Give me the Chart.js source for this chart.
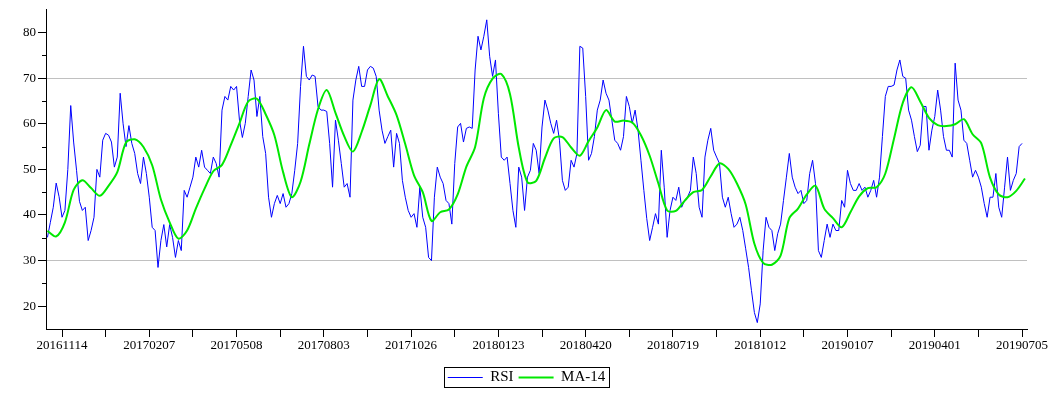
<!DOCTYPE html>
<html>
<head>
<meta charset="utf-8">
<title>RSI</title>
<script src="https://cdn.jsdelivr.net/npm/chart.js@4.4.1/dist/chart.umd.min.js"></script>
<style>
  html, body { margin: 0; padding: 0; background: #fff; }
</style>
</head>
<body>
<canvas id="rsiChart" width="1058" height="400"></canvas>
<script>
// RSI, one reading every second trading day
const rsiValues = [
  35.1, 38.4, 41.7, 47, 44, 39.5, 41, 50, 64, 56,
  49.8, 43, 41, 41.7, 34.4, 36.6, 39.5, 50, 48.3, 56.4,
  57.9, 57.5, 56, 50.5, 52.7, 66.7, 60, 55, 59.6, 55.7,
  53.5, 49.1, 46.9, 52.7, 49.1, 43.9, 37.3, 36.6, 28.5, 34.4,
  37.9, 33, 37.9, 35.1, 30.7, 34.4, 32.2, 45.4, 43.9, 46.1,
  48.3, 52.7, 50.5, 54.2, 50.5, 49.8, 49.1, 52.7, 51.3, 48.3,
  63, 66, 65.2, 68.2, 67.4, 68.2,
  60.8, 57, 60.1, 66, 71.8, 69.6, 61.6, 66, 57.2, 53.5,
  43.9, 39.5, 42.5, 44.3, 42.5, 44.7, 41.7, 42.5, 44.7, 49.8,
  55.7, 68.2, 77, 70.4, 69.6, 70.7, 70.4, 63.8, 63, 63,
  62.7, 55.7, 46.1, 60.8, 56.4, 51.3, 46.1, 46.9, 43.9, 65.2,
  69.6, 72.6, 68.2, 68.2, 71.8, 72.6, 72.2, 70.4, 63, 58.6,
  55.7, 57.2, 58.6, 50.5, 57.9, 55.7, 47.6, 43.9, 41, 39.5,
  40.3, 37.3, 46.1, 39.5, 37.3, 30.7, 30, 43.9,
  50.5, 48.3, 46.9, 43.2, 42.5, 38, 51.3, 59.3, 60.1, 56,
  59, 59.3, 59, 71.8, 79.2, 76.2, 79.2, 82.8, 74.8, 70.4,
  74, 62.3, 52.7, 52, 52.7, 46.9, 41, 37.3, 50.5, 48.3,
  41, 48.3, 49.8, 55.7, 54.2, 49.1, 59.3, 65.2, 63, 60.1,
  57.9, 60.8, 56.4, 47.6, 45.4, 46.1, 52, 50.5, 53.5, 77,
  76.6, 66, 52, 53.5, 57.2, 63, 65.2, 69.6, 66.7, 65.2,
  60.8, 56.4, 55.7, 54.2, 57.2, 66, 63.8,
  60.1, 63, 58.6, 52, 45.4, 39.2, 34.4, 37.3, 40.3, 38,
  54.2, 46.1, 35.1, 41, 43.9, 43.2, 46.1, 41.7, 43.2, 43.9,
  45.4, 52.7, 49.1, 41.7, 39.5, 52.7, 56.4, 59, 54.2, 52.7,
  51.3, 43.9, 41.7, 43.9, 40.3, 37.3, 38, 39.5, 36.6, 32.6,
  28.5, 23.4, 18.6, 16.4, 20.5, 32.2, 39.5, 37.3, 36.6, 32.2,
  35.9, 38, 43.2, 48.3, 53.5, 48.3, 46.1, 44.7, 45.4, 42.5,
  43.2, 49.1, 52, 46.9, 32.2, 30.7, 34.4, 38,
  35.1, 38, 36.6, 36.6, 43.2, 41.7, 49.8, 46.9, 45.4, 45.4,
  46.9, 45.4, 46.1, 43.9, 45.4, 47.6, 43.9, 48.3, 57.2, 66,
  68.2, 68.2, 68.5, 71.8, 74, 70.4, 70, 63, 60.8, 57.2,
  53.9, 55.3, 63.8, 63.8, 54.2, 58.6, 61.6, 67.4, 63, 57.2,
  54.2, 54.2, 52.7, 73.3, 65.2, 63, 56.4, 55.7, 52, 48.3,
  49.8, 48.3, 46.1, 42.5, 39.5, 43.9, 43.9, 49.1, 41.7, 39.5,
  46.1, 52.7, 45.4, 47.6, 49.1, 55, 55.7
];

const maValues = [
  36.5, 35.3, 38.4, 45.5, 47.6, 45.9, 44.2, 46.4, 49.4, 55.9,
  56.6, 54.9, 50.9, 43.4, 38.4, 34.8, 36.6, 41.4, 45.8, 49.6,
  51, 55.3, 60.1, 64.9, 65.5, 62.1, 57.5, 49.4, 43.9, 47.3,
  55.5, 63.2, 67.4, 62.4, 57.3, 53.9, 58.2, 64.1, 69.8, 66,
  61.9, 55.5, 48.7, 45, 38.7, 40.6, 41.2, 44.5, 50.6, 54.9,
  65.6, 69.9, 70.9, 66.5, 54.8, 47.2, 47.5, 52.5, 56.8, 57.1,
  54.8, 53, 56.2, 59.2, 63, 60.5, 60.7, 60.3, 57.5, 53,
  46.9, 41, 40.9, 43.1, 45, 45.5, 48.5, 51.3, 50.1, 46.9,
  42.3, 33.7, 29.5, 29.1, 31.1, 39.3, 41.4, 44.5, 46.4, 41.4,
  39.3, 37.3, 40.6, 44.1, 45.9, 46.1, 49.1, 56.8, 64.6, 68,
  64.9, 61.3, 59.7, 59.5, 59.9, 61, 57.7, 55.7, 48.2, 44.5,
  43.9, 45.3, 48
];
const maStep = 3;

// date labels, one every 30 readings, first one at reading 5
const dateLabels = ['20161114', '20170207', '20170508', '20170803', '20171026', '20180123',
  '20180420', '20180719', '20181012', '20190107', '20190401', '20190705'];
const labelStart = 5;
const labelEvery = 30;

const yLabels = [20, 30, 40, 50, 60, 70, 80];
const yMinor = [25, 35, 45, 55, 65, 75];
const refLines = [30, 70];

const serif = "'Liberation Serif', 'Times New Roman', serif";
const legendShift = 13;

// short minor ticks on the y axis and the frame round the legend
const extras = {
  id: 'extras',
  afterLayout(chart) {
    // legend sits a little right of the centre in the original
    chart.legend.left += legendShift;
    chart.legend.right += legendShift;
  },
  afterDraw(chart) {
    const ctx = chart.ctx;
    const y = chart.scales.y;
    ctx.save();
    ctx.strokeStyle = '#000';
    ctx.lineWidth = 1;
    ctx.beginPath();
    yMinor.forEach(function(v) {
      const py = Math.round(y.getPixelForValue(v)) + 0.5;
      ctx.moveTo(y.right - 4, py);
      ctx.lineTo(y.right, py);
    });
    ctx.stroke();

    const boxes = chart.legend.legendHitBoxes;
    if (boxes && boxes.length) {
      const first = boxes[0];
      const last = boxes[boxes.length - 1];
      const l = Math.round(first.left) - 3.5;
      const r = Math.round(last.left + last.width) + 4.5;
      const t = Math.round(first.top) - 2.5;
      const b = Math.round(first.top + first.height) + 2.5;
      ctx.strokeRect(l, t, r - l, b - t);
    }
    ctx.restore();
  }
};

const ctx1 = document.getElementById('rsiChart');
new Chart(ctx1, {
  type: 'line',
  data: {
    datasets: [{
      label: 'RSI',
      data: rsiValues.map((v, i) => ({ x: i, y: v })),
      borderColor: '#0000ff',
      borderWidth: 1,
      pointRadius: 0,
      tension: 0,
      order: 2
    }, {
      label: 'MA-14',
      data: maValues.map((v, k) => ({ x: k * maStep, y: v })),
      borderColor: '#00e800',
      borderWidth: 2,
      pointRadius: 0,
      tension: 0.3,
      order: 1
    }]
  },
  options: {
    responsive: false,
    animation: false,
    devicePixelRatio: 1,
    layout: { padding: { top: 9, right: 31, bottom: 5, left: 0 } },
    plugins: {
      tooltip: { enabled: false },
      legend: {
        position: 'bottom',
        labels: {
          usePointStyle: true,
          pointStyle: 'line',
          pointStyleWidth: 35,
          boxWidth: 35,
          padding: 5,
          color: '#000',
          font: { family: serif, size: 15 },
          sort: (a, b) => a.datasetIndex - b.datasetIndex
        }
      }
    },
    scales: {
      x: {
        type: 'linear',
        min: -0.5,
        max: 336.7,
        afterBuildTicks: function(scale) {
          const ticks = [];
          for (let k = 0; k <= (dateLabels.length - 1) * 2; k++) {
            ticks.push({ value: labelStart + k * labelEvery / 2 });
          }
          scale.ticks = ticks;
        },
        afterFit: function(scale) { scale.height = 36; },
        ticks: {
          autoSkip: false,
          maxRotation: 0,
          padding: 1,
          color: '#000',
          font: { family: serif, size: 13 },
          callback: function(value) {
            const k = (value - labelStart) / labelEvery;
            return Number.isInteger(k) ? dateLabels[k] : '';
          }
        },
        grid: { drawOnChartArea: false, color: '#000', tickColor: '#000', tickLength: 8 },
        border: { display: true, color: '#000', width: 1 }
      },
      y: {
        min: 15,
        max: 85,
        afterBuildTicks: function(scale) {
          scale.ticks = yLabels.map(v => ({ value: v }));
        },
        afterFit: function(scale) { scale.width = 46; },
        ticks: {
          autoSkip: false,
          padding: 2,
          color: '#000',
          font: { family: serif, size: 13 }
        },
        grid: {
          color: (c) => (c.tick && refLines.includes(c.tick.value)) ? '#c0c0c0' : 'rgba(0,0,0,0)',
          tickColor: '#000',
          tickLength: 8
        },
        border: { display: true, color: '#000', width: 1 }
      }
    }
  },
  plugins: [extras]
});
</script>
</body>
</html>
